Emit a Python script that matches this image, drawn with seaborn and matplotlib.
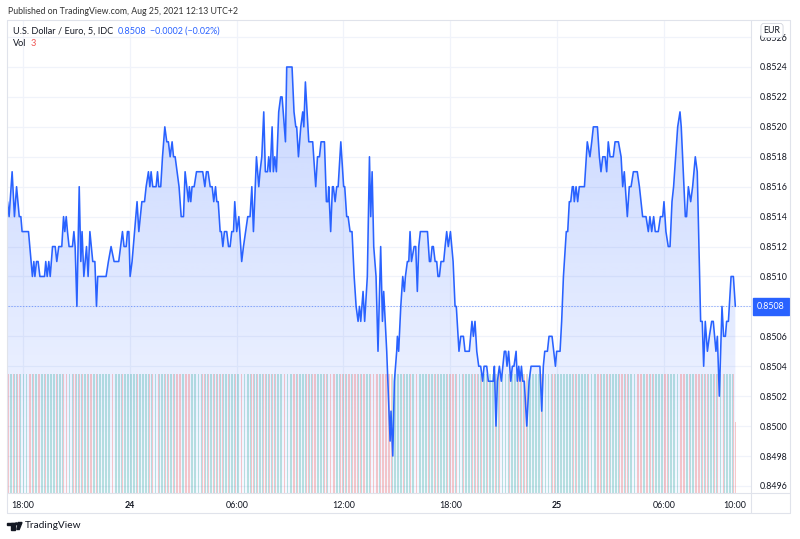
import numpy as np
import pandas as pd
import matplotlib
matplotlib.use("Agg")
import matplotlib.pyplot as plt
import seaborn as sns
from matplotlib.patches import Rectangle, Polygon, Circle
from matplotlib.lines import Line2D
from matplotlib.transforms import blended_transform_factory

# ---------------- data (hours since Aug 23 18:00, USD/EUR price) ----------------
HOURS = [
    -0.88, -0.79, -0.62, -0.49, -0.37, -0.22, -0.13, -0.06, 0.30, 0.52, 0.60, 0.66, 0.75, 0.84, 0.94,
    1.20, 1.27, 1.35, 1.44, 1.52, 1.65, 1.80, 1.89, 2.00, 2.17, 2.27, 2.34, 2.42, 2.49, 2.58, 2.77,
    2.85, 2.92, 3.02, 3.15, 3.24, 3.31, 3.41, 3.56, 3.65, 3.75, 3.91, 4.03, 4.12, 4.19, 4.66, 4.79,
    4.94, 5.11, 5.37, 5.58, 5.67, 5.79, 5.86, 5.94, 6.01, 6.12, 6.40, 6.50, 6.67, 6.82, 6.91, 7.04,
    7.12, 7.19, 7.28, 7.47, 7.55, 7.62, 7.73, 7.83, 7.96, 8.07, 8.16, 8.26, 8.37, 8.45, 8.54, 8.76,
    8.88, 9.01, 9.10, 9.29,
    9.34, 9.42, 9.49, 9.61, 9.74, 10.09, 10.21, 10.30, 10.39, 10.51, 10.62, 10.71, 10.81, 10.88, 10.96,
    11.07, 11.14, 11.22, 11.31, 11.44, 11.54, 11.63, 11.72, 11.82, 11.89, 12.00, 12.12, 12.28, 12.38,
    12.62, 12.75, 12.85, 12.94, 13.11, 13.24, 13.31, 13.41, 13.52, 13.61, 13.73, 13.80, 13.88, 13.99,
    14.06, 14.14, 14.23, 14.36, 14.47, 14.55, 14.74, 14.81, 15.11, 15.22, 15.32, 15.37, 15.47, 15.60,
    15.71, 15.77, 15.86, 16.05, 16.27, 16.44, 16.54, 16.65, 16.74, 16.93, 17.04, 17.13, 17.17, 17.28,
    17.38, 17.43, 17.53, 17.62, 17.70, 17.85, 18.01, 18.07, 18.18, 18.26, 18.37, 18.48, 18.60, 18.71,
    18.82, 18.90, 18.97, 19.10, 19.19, 19.34, 19.46,
    19.53, 19.61, 19.70, 19.83, 19.94, 20.09, 20.19, 20.26, 20.43, 20.62, 20.67, 20.77, 20.86, 20.99,
    21.03, 21.10, 21.22, 21.33, 21.42, 21.48, 21.59, 21.67, 21.74, 21.82, 21.97, 22.06, 22.15, 22.23,
    22.32, 22.72, 22.83, 22.90, 22.98, 23.05, 23.15, 23.24, 23.31, 23.39, 23.48, 23.63, 23.71, 23.80,
    23.89, 24.01, 24.16, 24.27, 24.34, 24.49, 24.59, 24.74, 24.83, 25.07, 25.22, 25.30, 25.39, 25.49,
    25.60, 25.71, 25.82, 25.90, 26.05, 26.14, 26.42, 26.48, 26.57, 26.65, 26.76, 26.87, 27.04, 27.12,
    27.19, 27.28, 27.40, 27.49, 27.58, 27.70, 27.77, 27.85, 27.92, 28.00, 28.07, 28.16, 28.30, 28.43,
    28.54, 29.04, 29.14, 29.23, 29.31, 29.46, 29.55, 29.72, 29.91, 29.98, 30.17,
    30.26, 30.36, 30.52, 30.60, 30.69, 30.77, 30.86, 30.92, 30.97, 31.07, 31.16, 31.25, 31.54, 31.70,
    31.85, 31.95, 32.04, 32.27, 32.38, 32.47, 32.57, 32.70, 32.79, 32.88, 32.98, 33.16, 33.26, 33.45,
    33.60, 33.69, 33.78, 33.95, 34.06, 34.16, 34.29, 34.51, 34.63, 34.81, 35.00, 35.13, 35.22, 35.32,
    35.43, 35.52, 35.69, 35.81, 35.94, 36.01, 36.12, 36.25, 36.35, 36.46, 36.55, 36.78, 36.91, 36.98,
    37.21, 37.28, 37.38, 37.51, 37.62, 37.77, 37.88, 38.07, 38.16, 38.24, 38.33, 38.45, 38.56, 38.69,
    38.78, 38.93, 39.01, 39.12, 39.27, 39.36, 39.46, 39.53, 39.63, 39.78, 39.91, 40.02,
]
PRICES = [
    0.8515, 0.8514, 0.8517, 0.8514, 0.8516, 0.8514, 0.8514, 0.8513, 0.8513, 0.8510, 0.8511, 0.8510, 0.8511, 0.8511, 0.8510,
    0.8510, 0.8511, 0.8510, 0.8511, 0.8510, 0.8512, 0.8512, 0.8511, 0.8512, 0.8512, 0.8514, 0.8513, 0.8514, 0.8513, 0.8512, 0.8512,
    0.8513, 0.8512, 0.8508, 0.8516, 0.8511, 0.8513, 0.8510, 0.8512, 0.8510, 0.8513, 0.8511, 0.8511, 0.8508, 0.8510, 0.8510, 0.8511,
    0.8512, 0.8511, 0.8511, 0.8513, 0.8512, 0.8512, 0.8513, 0.8513, 0.8510, 0.8511, 0.8515, 0.8513, 0.8515, 0.8515, 0.8516, 0.8517,
    0.8516, 0.8517, 0.8516, 0.8516, 0.8517, 0.8516, 0.8516, 0.8518, 0.8520, 0.8519, 0.8519, 0.8518, 0.8519, 0.8518, 0.8518, 0.8516,
    0.8514, 0.8514, 0.8517, 0.8515,
    0.8516, 0.8515, 0.8516, 0.8516, 0.8517, 0.8517, 0.8516, 0.8517, 0.8517, 0.8516, 0.8516, 0.8515, 0.8516, 0.8515, 0.8515,
    0.8513, 0.8513, 0.8512, 0.8513, 0.8513, 0.8512, 0.8512, 0.8513, 0.8513, 0.8515, 0.8513, 0.8514, 0.8511, 0.8512,
    0.8514, 0.8514, 0.8516, 0.8513, 0.8518, 0.8516, 0.8517, 0.8518, 0.8521, 0.8517, 0.8517, 0.8518, 0.8517, 0.8520,
    0.8517, 0.8518, 0.8517, 0.8521, 0.8522, 0.8522, 0.8519, 0.8524, 0.8524, 0.8521, 0.8520, 0.8520, 0.8518, 0.8520,
    0.8521, 0.8520, 0.8523, 0.8519, 0.8519, 0.8516, 0.8518, 0.8518, 0.8519, 0.8519, 0.8515, 0.8515, 0.8516, 0.8513,
    0.8516, 0.8516, 0.8515, 0.8516, 0.8516, 0.8519, 0.8516, 0.8516, 0.8514, 0.8514, 0.8513, 0.8513, 0.8510, 0.8508,
    0.8507, 0.8508, 0.8507, 0.8509, 0.8507, 0.8510, 0.8518,
    0.8514, 0.8517, 0.8512, 0.8510, 0.8505, 0.8512, 0.8507, 0.8509, 0.8505, 0.8499, 0.8501, 0.8498, 0.8503, 0.8505,
    0.8506, 0.8505, 0.8508, 0.8510, 0.8509, 0.8510, 0.8511, 0.8511, 0.8513, 0.8511, 0.8512, 0.8512, 0.8509, 0.8512,
    0.8513, 0.8513, 0.8511, 0.8511, 0.8512, 0.8512, 0.8511, 0.8511, 0.8510, 0.8510, 0.8511, 0.8511, 0.8512, 0.8513,
    0.8512, 0.8513, 0.8511, 0.8508, 0.8508, 0.8505, 0.8506, 0.8506, 0.8505, 0.8505, 0.8507, 0.8506, 0.8507, 0.8505,
    0.8504, 0.8504, 0.8503, 0.8504, 0.8504, 0.8503, 0.8503, 0.8504, 0.8500, 0.8503, 0.8504, 0.8503, 0.8505, 0.8505,
    0.8504, 0.8505, 0.8503, 0.8504, 0.8504, 0.8505, 0.8503, 0.8504, 0.8503, 0.8504, 0.8503, 0.8503, 0.8500, 0.8503,
    0.8504, 0.8504, 0.8501, 0.8504, 0.8505, 0.8505, 0.8506, 0.8506, 0.8504, 0.8505, 0.8505,
    0.8507, 0.8510, 0.8513, 0.8513, 0.8515, 0.8515, 0.8516, 0.8516, 0.8515, 0.8516, 0.8515, 0.8516, 0.8516, 0.8519,
    0.8518, 0.8519, 0.8520, 0.8520, 0.8518, 0.8517, 0.8518, 0.8518, 0.8517, 0.8519, 0.8518, 0.8518, 0.8519, 0.8519,
    0.8518, 0.8516, 0.8517, 0.8514, 0.8516, 0.8516, 0.8517, 0.8517, 0.8516, 0.8514, 0.8514, 0.8513, 0.8514, 0.8513,
    0.8514, 0.8513, 0.8513, 0.8514, 0.8514, 0.8515, 0.8513, 0.8512, 0.8512, 0.8515, 0.8516, 0.8520, 0.8521, 0.8520,
    0.8514, 0.8514, 0.8516, 0.8515, 0.8516, 0.8518, 0.8517, 0.8507, 0.8507, 0.8504, 0.8507, 0.8505, 0.8506, 0.8507,
    0.8507, 0.8505, 0.8506, 0.8502, 0.8508, 0.8506, 0.8506, 0.8507, 0.8507, 0.8510, 0.8510, 0.8508,
]
BAR_MINUTES = 5
VOLUME = 3          # every 5-minute bar shows the same volume
LAST_VOLUME = 1.8   # the still-forming last bar is shorter

TIME_TICKS = [0, 6, 12, 18, 24, 30, 36]
TIME_LABELS = ["18:00", "24", "06:00", "12:00", "18:00", "25", "06:00"]
END_TICK = [40]
END_LABEL = ["10:00"]
PRICE_TICKS = [0.8496, 0.8498, 0.8500, 0.8502, 0.8504, 0.8506, 0.8508, 0.8510,
               0.8512, 0.8514, 0.8516, 0.8518, 0.8520, 0.8522, 0.8524, 0.8526]
LAST_PRICE = 0.8508

# ---------------- styling ----------------
sns.set_theme(style="white")
plt.rcParams["font.family"] = ["Lato", "DejaVu Sans"]
BLUE = "#2962ff"
TEAL = "#26a69a"
RED = "#ef5350"
TXT = "#131722"
GRID = "#f0f3fa"
BORDER = "#e0e3eb"

W, H = 800, 539
fig = plt.figure(figsize=(W / 100, H / 100), dpi=100, facecolor="white")

def fx(x):
    return x / W

def fy(y):
    return 1 - y / H

L, R, T, B = 7.5, 751, 20, 493
pos = [fx(L), fy(B), fx(R) - fx(L), fy(T) - fy(B)]
XLIM = (-0.88, 40.9)
YLIM = (0.849553, 0.852714)

df = pd.DataFrame({"hours": HOURS, "price": PRICES})

# background axis: grid + gradient area
ax_bg = fig.add_axes(pos, zorder=0)
ax_bg.set_xlim(*XLIM)
ax_bg.set_ylim(*YLIM)
ax_bg.set_xticks(TIME_TICKS)
ax_bg.set_yticks(PRICE_TICKS)
ax_bg.grid(True, color=GRID, lw=0.9)
ax_bg.tick_params(labelbottom=False, labelleft=False, length=0)
for s in ax_bg.spines.values():
    s.set_visible(False)
ax_bg.set_facecolor("white")

poly = ax_bg.fill_between(df["hours"], df["price"], YLIM[0], color="none", lw=0)
alpha = np.linspace(0.28, 0.04, 256)
img = np.zeros((256, 1, 4))
img[..., 0] = 41 / 255
img[..., 1] = 98 / 255
img[..., 2] = 1.0
img[..., 3] = alpha[:, None]
im = ax_bg.imshow(img, extent=[XLIM[0], XLIM[1], YLIM[0], YLIM[1]], aspect="auto",
                  origin="upper", interpolation="bilinear", zorder=1)
im.set_clip_path(poly.get_paths()[0], transform=ax_bg.transData)

# volume axis
ax_vol = fig.add_axes(pos, zorder=1)
ax_vol.set_axis_off()
ax_vol.patch.set_visible(False)
step = BAR_MINUTES / 60
n_bars = int(np.floor((HOURS[-1] - HOURS[0]) / step + 1e-6)) + 1
bar_t = HOURS[-1] - step * np.arange(n_bars)[::-1]
vol = np.full(n_bars, float(VOLUME))
vol[-1] = LAST_VOLUME
h_arr = np.asarray(HOURS)
p_arr = np.asarray(PRICES)
seg = np.clip(np.searchsorted(h_arr, bar_t, side="right") - 1, 0, len(h_arr) - 2)
down = p_arr[seg + 1] < p_arr[seg]
bar_colors = np.where(down, RED, TEAL)
ax_vol.bar(bar_t, vol, width=step * 0.62, color=bar_colors, alpha=0.3, lw=0)
ax_vol.set_xlim(*XLIM)
ax_vol.set_ylim(0, VOLUME / ((B - 374) / (B - T)))

# main axis: line + labels
ax = fig.add_axes(pos, zorder=2)
ax.patch.set_visible(False)
sns.lineplot(data=df, x="hours", y="price", ax=ax, color=BLUE, lw=1.15,
             estimator=None, sort=False, legend=False)
ax.set_xlim(*XLIM)
ax.set_ylim(*YLIM)
ax.set_xlabel("")
ax.set_ylabel("")
for s in ax.spines.values():
    s.set_visible(False)
ax.yaxis.tick_right()
ax.set_yticks(PRICE_TICKS)
# the last-price badge replaces the tick label at that level
ax.set_yticklabels(["" if abs(v - LAST_PRICE) < 1e-9 else f"{v:.4f}" for v in PRICE_TICKS])
ax.set_xticks(TIME_TICKS)
ax.set_xticklabels(TIME_LABELS)
ax.set_xticks(END_TICK, minor=True)
ax.set_xticklabels(END_LABEL, minor=True)
ax.tick_params(axis="y", which="both", length=0, pad=6, labelsize=6.4, labelcolor=TXT)
ax.tick_params(axis="x", which="both", length=0, pad=6, labelsize=6.4, labelcolor=TXT)
for lab in ax.get_xticklabels():
    if lab.get_text() in ("24", "25"):
        lab.set_fontweight("bold")
ax.grid(False)

ax.axhline(LAST_PRICE, color=BLUE, lw=0.6, ls=(0, (1.5, 2)), alpha=0.6, zorder=1)
trans = blended_transform_factory(ax.transAxes, ax.transData)
ax.text((771 - L) / (R - L), LAST_PRICE, f"{LAST_PRICE:.4f}", transform=trans,
        ha="center", va="center", color="white", fontsize=6.4, clip_on=False, zorder=10,
        bbox=dict(boxstyle="square,pad=0.45", fc=BLUE, ec=BLUE))

# EUR badge
fig.text(fx(772), fy(30.5), "EUR", ha="center", va="center", fontsize=6.3, color=TXT, zorder=20,
         bbox=dict(boxstyle="round,pad=0.3,rounding_size=0.35", fc="white", ec="#d1d4dc", lw=0.6))

# frame lines
for (x0, y0, x1, y1) in [(7, 20, 790, 20), (7, 20, 7, 513), (7, 513, 790, 513), (790, 20, 790, 513),
                         (751, 20, 751, 513), (7, 493, 790, 493)]:
    fig.add_artist(Line2D([fx(x0), fx(x1)], [fy(y0), fy(y1)], color=BORDER, lw=0.8, zorder=30))

# header texts
fig.text(fx(8), fy(12), "Published on TradingView.com, Aug 25, 2021 12:13 UTC+2",
         ha="left", va="center", fontsize=6.3, color="#333333")
fig.text(fx(13), fy(31), "U.S. Dollar / Euro, 5, IDC", ha="left", va="center", fontsize=6.6, color=TXT)
fig.text(fx(118), fy(31), "0.8508", ha="left", va="center", fontsize=6.6, color=BLUE)
fig.text(fx(150), fy(31), "\u22120.0002 (\u22120.02%)", ha="left", va="center", fontsize=6.4, color=BLUE)
fig.text(fx(13), fy(44), "Vol", ha="left", va="center", fontsize=6.6, color=TXT)
fig.text(fx(31), fy(44), "3", ha="left", va="center", fontsize=6.6, color=RED)

# TradingView footer logo + text
tf = fig.transFigure
fig.add_artist(Rectangle((fx(7.3), fy(525)), fx(15) - fx(7.3), fy(522.5) - fy(525), color=TXT, transform=tf))
fig.add_artist(Rectangle((fx(11), fy(529.5)), fx(14.8) - fx(11), fy(522.5) - fy(529.5), color=TXT, transform=tf))
fig.add_artist(Circle((fx(16.6), fy(523.8)), 1.3 / W, color=TXT, transform=tf))
fig.add_artist(Polygon([(fx(18.5), fy(522.5)), (fx(22), fy(522.5)), (fx(19.2), fy(529.5)), (fx(16.8), fy(529.5))],
                       closed=True, color=TXT, transform=tf))
fig.text(fx(25), fy(526), "TradingView", ha="left", va="center", fontsize=7.3, color=TXT)

fig.savefig("out.png", dpi=100, facecolor="white")
